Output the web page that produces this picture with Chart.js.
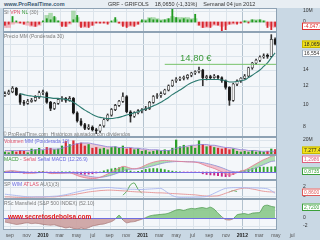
<!DOCTYPE html>
<html>
<head>
<meta charset="utf-8">
<title>GRF - GRIFOLS</title>
<script src="https://cdn.jsdelivr.net/npm/chart.js@4.4.1/dist/chart.umd.min.js"></script>
<style>
  body { margin: 0; background: #c9d8e4; }
  #wrap { position: relative; width: 320px; height: 240px; overflow: hidden; background: #c9d8e4; font-family: "Liberation Sans", Arial, sans-serif; }
  #top { position: absolute; left: 0; top: 0; width: 320px; height: 8px; background: #e8eef3; }
  canvas { position: absolute; left: 0; }
  .lbl { position: absolute; white-space: nowrap; font-size: 5px; line-height: 6px; color: #7a7a7a; }
</style>
</head>
<body>
<div id="wrap">
  <div id="top"></div>
  <canvas id="c1" width="320" height="24" style="top:8px"></canvas>
  <canvas id="c2" width="320" height="105" style="top:32px"></canvas>
  <canvas id="c3" width="320" height="18" style="top:137px"></canvas>
  <canvas id="c4" width="320" height="25" style="top:155px"></canvas>
  <canvas id="c5" width="320" height="19" style="top:180px"></canvas>
  <canvas id="c6" width="320" height="41" style="top:199px"></canvas>

  <div class="lbl" style="left:4px;top:1px;font-size:5.5px;font-weight:bold;color:#3b5770">www.ProRealTime.com</div>
  <div class="lbl" style="left:108px;top:1px;font-size:5.5px;color:#333">GRF - GRIFOLS &nbsp;&nbsp; 18,0650 (-1,31%) &nbsp;&nbsp; Semanal 04 jun 2012</div>
  <div class="lbl" style="left:4px;top:9px">SI <span style="color:#e0506a">VPN</span> <span style="color:#3a9a3a">NL</span> (30)</div>
  <div class="lbl" style="left:4px;top:33px">Precio MM (Ponderada 30)</div>
  <div class="lbl" style="left:3px;top:131px">© ProRealTime.com &nbsp;Históricos ajustados con dividendos</div>
  <div class="lbl" style="left:4px;top:138px"><span style="color:#e0506a">Volumen</span> <span style="color:#6a6ae0">MM (Ponderada 10)</span></div>
  <div class="lbl" style="left:4px;top:156px"><span style="color:#3a9a3a">MACD</span> - <span style="color:#e0506a">Señal</span> <span style="color:#6a6ae0">Señal MACD (12.26.9)</span></div>
  <div class="lbl" style="left:4px;top:181px">SP <span style="color:#6a6ae0">WIM</span> <span style="color:#e0506a">ATLAS</span> AU(1)(3)</div>
  <div class="lbl" style="left:4px;top:200px">RSc Mansfield (S&amp;P 500 INDEX) (52.10)</div>
  <div class="lbl" style="left:8px;top:213px;font-size:6.5px;line-height:8px;font-weight:bold;color:#e21b1b">www.secretosdebolsa.com</div>
</div>

<script>
// weekly candles grouped two by two, aug 2009 .. jun 2012
const candleOpen = [10.9,11.1,11.3,11.7,11.0, 10.2,10.1,10.3,10.4,10.7, 11.2,11.2,10.2,9.6,10.1, 10.5,10.6,10.4,10.6,9.2,
  8.5,8.2,7.9,8.0,7.8, 7.7,8.1,8.6,9.0,9.5, 9.9,10.3,10.8,9.3,8.9, 9.2,9.4,9.5,9.6,10.2,
  10.8,10.9,11.1,11.5,12.0, 12.6,12.8,12.9,13.0,13.3, 13.6,13.8,14.0,13.0,13.1, 13.0,13.2,13.0,12.6,11.8,
  10.4,12.2,12.6,12.9,13.2, 14.3,15.0,15.4,15.9,16.1, 16.0,18.9];
const candleHigh = [11.3,11.5,11.9,11.8,11.1, 10.4,10.5,10.6,10.9,11.4, 11.5,11.3,10.3,10.2,10.6, 10.8,10.7,10.8,10.7,9.3,
  8.7,8.3,8.2,8.1,7.9, 8.2,8.7,9.1,9.6,10.0, 10.4,11.2,10.9,9.4,9.3, 9.5,9.6,9.8,10.3,10.9,
  11.1,11.3,11.6,12.1,12.7, 13.0,13.1,13.2,13.4,13.7, 13.9,14.4,14.1,13.3,13.3, 13.4,13.3,13.1,12.7,11.9,
  12.3,12.7,13.0,13.4,14.4, 15.1,15.6,16.1,16.4,16.4, 19.8,19.2];
const candleLow = [10.8,11.0,11.2,10.9,10.0, 9.9,10.0,10.2,10.3,10.6, 11.0,10.1,9.4,9.5,10.0, 10.3,10.2,10.3,9.1,8.4,
  8.1,7.8,7.8,7.7,7.5, 7.6,8.0,8.5,8.9,9.4, 9.8,10.2,9.2,8.4,8.8, 9.1,9.2,9.4,9.5,10.1,
  10.6,10.7,11.0,11.4,11.9, 12.4,12.6,12.7,12.8,13.1, 13.4,13.6,12.0,12.7,12.8, 12.9,12.8,12.4,11.6,9.9,
  10.3,12.0,12.4,12.8,13.1, 14.1,14.8,15.2,15.7,15.7, 15.9,17.9];
const candleClose = [11.1,11.3,11.7,11.0,10.2, 10.1,10.3,10.4,10.7,11.2, 11.2,10.2,9.6,10.1,10.5, 10.6,10.4,10.6,9.2,8.5,
  8.2,7.9,8.0,7.8,7.7, 8.1,8.6,9.0,9.5,9.9, 10.3,10.8,9.3,8.9,9.2, 9.4,9.5,9.6,10.2,10.8,
  10.9,11.1,11.5,12.0,12.6, 12.8,12.9,13.0,13.3,13.6, 13.8,14.0,13.0,13.1,13.0, 13.2,13.0,12.6,11.8,10.4,
  12.2,12.6,12.9,13.2,14.3, 15.0,15.4,15.9,16.1,16.0, 18.9,18.065];
const priceMA = [null,null,null,null, 11.1,11.0,10.9,10.85,10.8,10.8, 10.75,10.7,10.65,10.6,10.6,10.55,10.5,
  10.4,10.2,9.95,9.7,9.45,9.25,9.05,8.9, 8.8,8.75,8.7,8.7,8.75,8.8, 8.9,9.0,9.1,9.2,9.3,9.45,
  9.55,9.7,9.85,10.0,10.2, 10.45,10.7,11.0,11.25,11.5, 11.8,12.1,12.35,12.55,12.7,
  12.75,12.75,12.75,12.75,12.75,12.7,12.6, 12.45,12.45,12.5,12.6,12.7, 13.0,13.3,13.65,14.0,14.5,15.0,15.8,16.554];
const supportLevel = 14.8;
const supportFrom = 42;
const supportText = '14,80 €';

const volume = [4,3,5,4,6,5,3,8,7,9, 6,10,9,7,8,12,18,14,19,15, 16,12,14,9,10,8,9,7,10,11,
  9,12,8,9,7,8,5,6,4,5, 6,5,7,6,9,20,11,13,10,12, 9,19,14,11,12,10,9,8,9,7, 8,5,4,5,4,6,4,5,4,5, 8,7.3];
const volumeMA = [6,6,6,6,6,6,6,6,7,7, 7,8,8,8,8,9,11,12,14,15, 16,16,16,15,14,13,12,11,11,11,
  10,10,10,10,9,9,8,8,7,7, 7,6,6,6,7,9,10,11,12,13, 13,14,14,14,13,13,12,11,10,10, 9,8,7,7,6,6,6,5,5,5, 5,5];

const flowBars = [-3,-2,5,1,-1,-2,0,-3,-4,-2, 1,3,2,5,1,-4,-4,-1,2,6, -5,-4,-5,-3,-1,-1,-1,-2,1,4,
  -1,-4,-5,-3,-4,-2,2,1,3,2, 2,1,2,3,13,4,2,3,2,2, 7,-3,-5,-4,-5,-2,-3,-8,-7,-2, -1,-2,-1,1,-1,2,1,2,1,-5, -7,-4.05];
const flowArea = [-5,-5,-2,-1,-1,-2,-3,-4,-4,-3, 0,6,8,4,1,-3,-4,-2,10,4, -4,-5,-4,-3,-1,-1,-1,-1,0,2,
  -1,-3,-4,-4,-3,-2,1,2,4,4, 3,2,2,3,5,4,4,4,4,3, 3,-3,-5,-5,-4,-3,-3,-4,-3,-2, -2,-1,-1,1,1,2,2,2,1,-3, -4,-5];

const macdLine = [0.05,0.08,0.1,0.05,-0.02, -0.08,-0.1,-0.1,-0.08,-0.02, 0.0,-0.05,-0.12,-0.12,-0.1,
  -0.08,-0.08,-0.06,-0.15,-0.28, -0.38,-0.45,-0.5,-0.52,-0.5, -0.42,-0.3,-0.15,0.0,0.15, 0.3,0.45,0.4,0.3,0.25,
  0.3,0.4,0.55,0.68,0.78, 0.85,0.9,0.92,0.9,0.88, 0.86,0.84,0.82,0.8,0.8, 0.78,0.72,0.6,0.48,0.38,
  0.28,0.15,0.0,-0.15,-0.25, -0.18,-0.05,0.08,0.15,0.3, 0.48,0.65,0.82,0.98,1.1, 1.25,1.2986];
const signalLine = [0.02,0.04,0.06,0.06,0.04, 0.01,-0.03,-0.05,-0.06,-0.05, -0.04,-0.04,-0.06,-0.08,-0.09,
  -0.09,-0.08,-0.08,-0.1,-0.14, -0.2,-0.27,-0.33,-0.38,-0.42, -0.42,-0.39,-0.33,-0.25,-0.15, -0.04,0.08,0.18,0.22,0.24,
  0.25,0.28,0.34,0.42,0.5, 0.58,0.66,0.73,0.78,0.81, 0.83,0.83,0.83,0.82,0.81, 0.8,0.78,0.74,0.68,0.61,
  0.53,0.44,0.34,0.22,0.1, 0.03,0.0,0.01,0.04,0.1, 0.2,0.32,0.45,0.59,0.72, 0.84,0.8735];
const macdHist = [0.03,0.04,0.04,-0.01,-0.06, -0.09,-0.07,-0.05,-0.02,0.03, 0.04,-0.01,-0.06,-0.04,-0.01,
  0.01,0,0.02,-0.05,-0.14, -0.18,-0.18,-0.17,-0.14,-0.08, 0,0.09,0.18,0.25,0.3, 0.34,0.37,0.22,0.08,0.01,
  0.05,0.12,0.21,0.26,0.28, 0.27,0.24,0.19,0.12,0.07, 0.03,0.01,-0.01,-0.02,-0.01, -0.02,-0.06,-0.14,-0.2,-0.23,
  -0.25,-0.29,-0.34,-0.37,-0.35, -0.21,-0.05,0.07,0.11,0.2, 0.28,0.33,0.37,0.39,0.38, 0.41,0.42];

const atlasLine = [-0.2,-0.2,-0.25,-0.3,-0.3,-0.3,-0.3,-0.3,-0.25,-0.25,-0.25,-0.2,-0.2,-0.2,-0.1,
  0.0,0.1,0.2,0.3,0.45,0.6,0.75,0.9,1.0,1.1,1.2,1.25,1.3, 1.3,1.25,1.2,1.15,1.1,1.0,0.95,0.9,0.9,
  0.85,0.8,0.75,0.7,0.7,0.65,0.6,0.55,0.5,0.45,0.4,0.35,0.3,0.25, 0.15,0.05,0.0,-0.05,0.0,0.05,
  0.3,0.6,0.9,1.2,1.45,1.65,1.75, 1.7,1.55,1.4,1.2,1.05,0.95,0.9,0.86];
const wimLine = [0.4,0.3,0.2,0.1,0.0, -0.1,-0.15,-0.2,-0.2,-0.2,-0.2,-0.15,-0.1,-0.05,0.0,
  0.15,0.3,0.5,0.7,0.9,1.1,1.3,1.45,1.6,1.7,1.8, 1.85,1.9,1.85,
  1.75,1.7,1.6,1.55,1.5,1.5,1.45,1.45,1.5,1.55,1.6,1.65, 1.7,1.2,0.6,0.1,-0.2,
  -0.3,-0.3,-0.3,-0.3,-0.25,-0.25,-0.2,-0.1, 0.2,0.6,1.0,1.4,1.7,1.8,1.85,1.85,
  1.85,1.85,1.8,1.8,1.8,1.75,1.7,1.6, 1.2,0.6];
const auLine = [null,null,null,null,null,null,null,null,null,null, null,null,null,null,null,null,null,null,null,null,
  null,null,null,null,null,null,null,null,null,null, null,0.2,1.0,2.5,2.9,1.5,0.6,null,null,null,
  null,null,null,null,null,null,null,null,null,null, null,null,null,null,null,null,null,null,null,0.9,
  1.2,1.0,null,null,null,null,null,null,null,null, null,null];

const rscLine = [-1.0,-1.2,-1.4,-1.6,-1.5, -1.3,-1.2,-1.4,-1.3,-1.4, -1.6,-1.7,-1.8,-1.7,
  -2.0,-2.2,-2.5,-2.3,-2.6,-2.8,-2.5,-2.7,-2.4, -2.0,-1.8,-1.6,-1.5,-1.2,-0.9, -0.3,0.7,
  -0.5,-1.2,-1.0,-0.9,-0.6, -0.3,0.1, 0.5,0.7,0.8,0.9, 1.0,1.2,1.6,2.0, 2.1,1.9,2.2,2.4,2.3,
  2.5,2.6,2.4,2.7,2.2, 1.2,0.3, -0.4,-0.5,-0.2, 0.8,1.0,1.1,0.9,1.2,1.3,1.4, 3.0,3.2,2.9,2.72];

const monthLabels = ['sep','nov','2010','mar','may','jul','sep','nov','2011','mar','may','jul','sep','nov','2012','mar','may','jul'];
const monthPos = [1.3,5.7,10.0,14.4,18.8,23.1,27.5,31.9,36.2,40.6,45.0,49.3,53.7,58.1,62.4,66.8,71.2,75.5];
const lastX = 71.5;

const priceTicks = [8, 10, 12, 14];
const priceGrid = [8, 10, 12, 14, 16, 18];
const flowTicks = [0, 10];
const volTicks = [20];
const wimTicks = [0, 2];
const rscTicks = [0, -2];

const FONT = '"Liberation Sans", Arial, sans-serif';

const panelPlugin = {
  id: 'panel',
  beforeDatasetsDraw(chart, args, o) {
    const { ctx, chartArea: a, scales: { x, y } } = chart;
    ctx.save();
    ctx.fillStyle = '#f4f7fa';
    ctx.fillRect(a.left, a.top, a.width, a.height);
    ctx.lineWidth = 1;
    monthPos.forEach((m, i) => {
      const px = Math.round(x.getPixelForValue(m)) + 0.5;
      if (px > a.right) return;
      ctx.strokeStyle = /^\d/.test(monthLabels[i]) ? '#b3c2ce' : '#dce4eb';
      ctx.beginPath(); ctx.moveTo(px, a.top); ctx.lineTo(px, a.bottom); ctx.stroke();
    });
    (o.grid || []).forEach(v => {
      const py = Math.round(y.getPixelForValue(v)) + 0.5;
      ctx.strokeStyle = '#dce4eb';
      ctx.beginPath(); ctx.moveTo(a.left, py); ctx.lineTo(a.right, py); ctx.stroke();
    });
    ctx.restore();
  },
  afterDraw(chart, args, o) {
    const { ctx, chartArea: a, scales: { x, y } } = chart;
    ctx.save();
    if (o.zero) {
      const py = Math.round(y.getPixelForValue(0)) + 0.5;
      ctx.strokeStyle = o.zero;
      ctx.beginPath(); ctx.moveTo(a.left, py); ctx.lineTo(a.right, py); ctx.stroke();
    }
    ctx.strokeStyle = '#8ea2b4';
    ctx.strokeRect(a.left + 0.5, a.top + 0.5, a.width - 1, a.height - 1);

    ctx.font = '5px ' + FONT;
    ctx.textBaseline = 'middle';
    (o.ticks || []).forEach((v, i) => {
      ctx.fillStyle = '#333';
      ctx.fillText(o.tickText[i], 303, y.getPixelForValue(v));
    });
    (o.boxes || []).forEach(b => {
      let py = y.getPixelForValue(b.at);
      py = Math.round(Math.min(Math.max(py, a.top + 3.5), a.bottom - 3.5));
      const w = ctx.measureText(b.text).width + 4;
      ctx.fillStyle = b.bg;
      ctx.fillRect(302, py - 3.5, w, 7);
      ctx.strokeStyle = b.line;
      ctx.strokeRect(302.5, py - 3, w, 6.5);
      ctx.fillStyle = b.color;
      ctx.fillText(b.text, 304, py + 0.5);
    });

    if (o.extra === 'price') {
      ctx.font = '9.5px ' + FONT;
      ctx.fillStyle = '#3d9b3d';
      ctx.textBaseline = 'bottom';
      ctx.fillText(supportText, x.getPixelForValue(46), y.getPixelForValue(supportLevel) - 1);
    }
    if (o.extra === 'axis') {
      ctx.textAlign = 'center';
      ctx.textBaseline = 'middle';
      monthPos.forEach((m, i) => {
        const year = /^\d/.test(monthLabels[i]);
        ctx.font = (year ? 'bold ' : '') + '5px ' + FONT;
        ctx.fillStyle = year ? '#222' : '#555';
        ctx.fillText(monthLabels[i], x.getPixelForValue(m), a.bottom + 6);
      });
    }
    ctx.restore();
  }
};

function pts(arr) { return arr.map((v, i) => ({ x: i, y: v })); }
function spans(a, b) { return a.map((v, i) => ({ x: i, y: [v, b[i]] })); }
function upDown(up, down) { return candleClose.map((c, i) => c >= candleOpen[i] ? up : down); }
function bySign(arr, pos, neg) { return arr.map(v => v >= 0 ? pos : neg); }

function options(yScale, panel, bottom) {
  return {
    responsive: false,
    animation: false,
    events: [],
    layout: { padding: { left: 3, right: 43, top: 0, bottom: bottom || 0 } },
    plugins: { legend: { display: false }, tooltip: { enabled: false }, panel: panel },
    scales: {
      x: { type: 'linear', min: -0.5, max: lastX, offset: false, display: false },
      y: Object.assign({ display: false }, yScale)
    }
  };
}

// top panel
new Chart(document.getElementById('c1'), {
  type: 'bar',
  data: { datasets: [
    { data: pts(flowBars), backgroundColor: bySign(flowBars, '#1f9a1f', '#d8262e'), barThickness: 1.2, grouped: false, order: 1 },
    { data: pts(flowArea), backgroundColor: bySign(flowArea, 'rgba(125,198,125,0.6)', 'rgba(240,150,162,0.65)'), barThickness: 3.9, grouped: false, order: 2 }
  ]},
  options: options({ min: -9.1, max: 12.7 },
    { grid: [0, 10], ticks: flowTicks, tickText: ['0', '10M'],
      boxes: [{ at: flowBars[flowBars.length - 1], text: '-4.047.616', bg: '#fff', line: '#e03030', color: '#e03030' }] }),
  plugins: [panelPlugin]
});

// price
new Chart(document.getElementById('c2'), {
  type: 'bar',
  data: { datasets: [
    { type: 'line', data: [{ x: supportFrom, y: supportLevel }, { x: lastX, y: supportLevel }], borderColor: '#78c26a', borderWidth: 1, pointRadius: 0, order: 0 },
    { type: 'line', data: pts(priceMA), borderColor: '#2c7a70', borderWidth: 1.1, pointRadius: 0, tension: 0.35, order: 1 },
    { data: spans(candleOpen, candleClose), backgroundColor: upDown('#f2f2f2', '#151515'), borderColor: '#222', borderWidth: 0.6,
      borderSkipped: false, barThickness: 2.4, minBarLength: 1, grouped: false, order: 2 },
    { data: spans(candleLow, candleHigh), backgroundColor: '#333', barThickness: 1, grouped: false, order: 3 }
  ]},
  options: options({ type: 'logarithmic', min: 7.26, max: 20.32 },
    { grid: priceGrid, ticks: priceTicks, tickText: priceTicks.map(String), extra: 'price',
      boxes: [
        { at: candleClose[candleClose.length - 1], text: '18,0650', bg: '#f3e21c', line: '#c8b800', color: '#222' },
        { at: priceMA[priceMA.length - 1], text: '16,554', bg: '#fff', line: '#9fb0c0', color: '#333' }
      ] }),
  plugins: [panelPlugin]
});

// volume
new Chart(document.getElementById('c3'), {
  type: 'bar',
  data: { datasets: [
    { type: 'line', data: pts(volumeMA), borderColor: '#8a7fd8', borderWidth: 0.8, pointRadius: 0, tension: 0.3, order: 0 },
    { data: pts(volume), backgroundColor: upDown('#2a9f2a', '#d92c34'), barThickness: 1.6, grouped: false, order: 1 },
    { type: 'line', data: pts(volumeMA), borderWidth: 0, pointRadius: 0, tension: 0.3, fill: 'origin', backgroundColor: 'rgba(234,170,180,0.55)', order: 2 }
  ]},
  options: options({ min: 0, max: 24 },
    { grid: [10, 20], ticks: volTicks, tickText: ['20M'],
      boxes: [{ at: volume[volume.length - 1], text: '7.277.424', bg: '#f3e21c', line: '#c8b800', color: '#222' }] }),
  plugins: [panelPlugin]
});

// MACD
new Chart(document.getElementById('c4'), {
  type: 'bar',
  data: { datasets: [
    { type: 'line', data: pts(macdLine), borderColor: '#e67f94', borderWidth: 0.9, pointRadius: 0, tension: 0.3,
      fill: { target: 1, above: 'rgba(120,200,120,0.55)', below: 'rgba(236,150,170,0.55)' }, order: 1 },
    { type: 'line', data: pts(signalLine), borderColor: '#8a8ee6', borderWidth: 0.9, pointRadius: 0, tension: 0.3, order: 1 },
    { data: pts(macdHist), backgroundColor: bySign(macdHist, '#33a533', '#c8288c'), barThickness: 1.3, grouped: false, order: 2 }
  ]},
  options: options({ min: -0.635, max: 1.35 },
    { zero: '#7b6ee6',
      boxes: [
        { at: macdLine[macdLine.length - 1], text: '1,2986', bg: '#fff', line: '#e06080', color: '#e06080' },
        { at: 0.08, text: '0,8735', bg: '#fff', line: '#3aa03a', color: '#3aa03a' }
      ] }),
  plugins: [panelPlugin]
});

// WIM / ATLAS
new Chart(document.getElementById('c5'), {
  type: 'line',
  data: { datasets: [
    { data: pts(wimLine), borderColor: '#a9b6ee', borderWidth: 0.9, pointRadius: 0, tension: 0.3 },
    { data: pts(atlasLine), borderColor: '#e59292', borderWidth: 0.9, pointRadius: 0, tension: 0.3 },
    { data: pts(auLine), borderColor: '#4aa04a', borderWidth: 0.9, pointRadius: 0, tension: 0.2 }
  ]},
  options: options({ min: -0.67, max: 3.56 },
    { grid: [0, 2], ticks: wimTicks, tickText: ['0', '2'],
      boxes: [{ at: atlasLine[atlasLine.length - 1], text: '0,8600', bg: '#fff', line: '#e05a5a', color: '#e05a5a' }] }),
  plugins: [panelPlugin]
});

// RSc Mansfield
new Chart(document.getElementById('c6'), {
  type: 'line',
  data: { datasets: [
    { data: pts(rscLine), borderWidth: 0.8, pointRadius: 0, tension: 0.2,
      segment: { borderColor: c => (c.p0.parsed.y + c.p1.parsed.y) / 2 < 0 ? '#a87878' : '#4f9a4f' },
      fill: { target: 'origin', above: 'rgba(138,200,138,0.9)', below: 'rgba(204,160,160,0.9)' } }
  ]},
  options: options({ min: -3.0, max: 4.75 },
    { grid: [-2, 2], zero: '#6f6fe0', ticks: rscTicks, tickText: ['0', '-2'], extra: 'axis',
      boxes: [{ at: rscLine[rscLine.length - 1], text: '2,7200', bg: '#fff', line: '#3aa03a', color: '#3aa03a' }] }, 10),
  plugins: [panelPlugin]
});
</script>
</body>
</html>
